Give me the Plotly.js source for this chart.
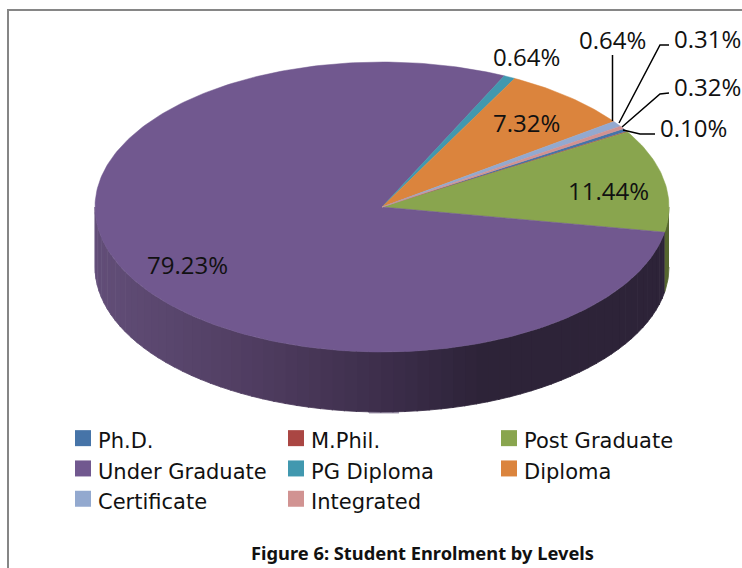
<!DOCTYPE html>
<html><head><meta charset="utf-8">
<script src="https://cdn.plot.ly/plotly-3.0.1.min.js"></script>
<style>html,body{margin:0;padding:0;background:#fff;overflow:hidden}</style>
</head><body><div id="chart" style="width:742px;height:568px"></div>
<script>
// Data, clockwise in the order of the reference's legend
const categories = ["Ph.D.","M.Phil.","Post Graduate","Under Graduate","PG Diploma","Diploma","Certificate","Integrated"];
const percents = [0.32,0.10,11.44,79.23,0.64,7.32,0.64,0.31];
const colors = ["#4674A8","#AA4643","#89A54E","#71588F","#4198AF","#DB843D","#93A9CF","#D19392"];
const wallShadeX = [95,250,400,480,669];
const wallShades = [[98,78,120],[80,61,97],[58,44,72],[45,35,56],[45,35,56]];
const greenWall = "#56662F";

// Projected pie geometry
const cx=382, cy=207, rx=287, ry=145, depth=60, startDeg=-32.7;
const px=t=>cx+rx*Math.cos(t*Math.PI/180), py=t=>cy+ry*Math.sin(t*Math.PI/180);
function arc(a0,a1,dy){const n=Math.max(2,Math.ceil(Math.abs(a1-a0)));const xs=[],ys=[];
  for(let i=0;i<=n;i++){const t=a0+(a1-a0)*i/n;xs.push(px(t));ys.push(py(t)+dy);}return [xs,ys];}
function shade(x){let i=0;while(i<wallShadeX.length-2&&x>wallShadeX[i+1])i++;
  const f=Math.min(1,Math.max(0,(x-wallShadeX[i])/(wallShadeX[i+1]-wallShadeX[i])));
  const c=wallShades[i].map((v,k)=>Math.round(v+(wallShades[i+1][k]-v)*f));return `rgb(${c})`;}
function wallStrip(a0,a1,color){const [x1,y1]=arc(a0,a1,0),[x2,y2]=arc(a1,a0,depth);
  return {x:x1.concat(x2),y:y1.concat(y2),type:'scatter',mode:'lines',fill:'toself',fillcolor:color,
    line:{color:color,width:0.8},showlegend:false,hoverinfo:'skip'};}

const traces=[];
// Side wall: purple slice wraps the front, a sliver of green at far right
const sum=percents.reduce((a,b)=>a+b,0);
let acc=startDeg; const bounds=[acc];
percents.forEach(p=>{acc+=p/sum*360;bounds.push(acc);});
const ugStart=bounds[3];
traces.push(wallStrip(0,ugStart,greenWall));
const strips=70;
for(let i=0;i<strips;i++){const a=ugStart+(180-ugStart)*i/strips,b=ugStart+(180-ugStart)*(i+1)/strips+0.2;
  traces.push(wallStrip(a,Math.min(b,180),shade(px((a+b)/2))));}
// Top face
categories.forEach((name,i)=>{const [xs,ys]=arc(bounds[i],bounds[i+1],0);
  traces.push({x:[cx,...xs,cx],y:[cy,...ys,cy],type:'scatter',mode:'lines',fill:'toself',
    fillcolor:colors[i],line:{color:colors[i],width:0.5},showlegend:false,name:name,
    text:percents[i].toFixed(2)+'%',hoverinfo:'name+text'});});
// Legend keys
categories.forEach((name,i)=>traces.push({x:[null],y:[null],type:'scatter',mode:'markers',name:name,
  marker:{symbol:'square',size:16,color:colors[i]},showlegend:true,hoverinfo:'skip'}));

const labelFont={family:'"Open Sans", sans-serif',size:24,color:'#111'};
const labels=[
 ["79.23%",145,264],["11.44%",566,190],["7.32%",491,122],["0.64%",491,56],
 ["0.64%",577,39],["0.31%",672,38],["0.32%",672,86],["0.10%",658,127]];
const leaders=[
 "M612.5,55 L612.5,121","M669,45 L660,45 L619,123","M669,93 L660,94 L622,127","M655,134 L640,134 L623,130"];

const layout={
 width:742,height:568,margin:{l:0,r:0,t:0,b:0},paper_bgcolor:'#fff',plot_bgcolor:'#fff',
 xaxis:{range:[0,742],visible:false,fixedrange:true},
 yaxis:{range:[568,0],visible:false,fixedrange:true},
 title:{text:"<b>Figure 6: Student Enrolment by Levels</b>",font:{family:'"Noto Sans", sans-serif',size:18.3,color:'#111'},
   x:422.5/742,xanchor:'center',xref:'paper',y:1-554/568,yanchor:'middle',yref:'paper'},
 legend:{orientation:'h',x:58/742,xanchor:'left',y:1-420/568,yanchor:'top',bgcolor:'rgba(0,0,0,0)',
   entrywidth:168,entrywidthmode:'pixels',itemwidth:30,
   font:{family:'"DejaVu Sans", sans-serif',size:21,color:'#111'}},
 annotations:labels.map(([t,x,y])=>({text:t,x:x,y:y,xref:'x',yref:'y',xanchor:'left',yanchor:'middle',
   showarrow:false,font:labelFont})),
 shapes:[
  {type:'path',path:"M8,568 L8,10 L742,10",line:{color:'#868686',width:2},layer:'below'},
  {type:'rect',x0:369,x1:399,y0:411,y1:413.5,fillcolor:'#A9A0B5',line:{width:0},layer:'below'},
  ...leaders.map(p=>({type:'path',path:p,line:{color:'#000',width:1.5}}))
 ]
};
Plotly.newPlot('chart',traces,layout,{displayModeBar:false,staticPlot:true}).then(()=>{
  // Nudge legend keys toward their labels, as in the reference
  document.querySelectorAll('.legend .legendpoints path.scatterpts').forEach(p=>{
    p.setAttribute('transform','translate(25,-2)');});
});
</script></body></html>
